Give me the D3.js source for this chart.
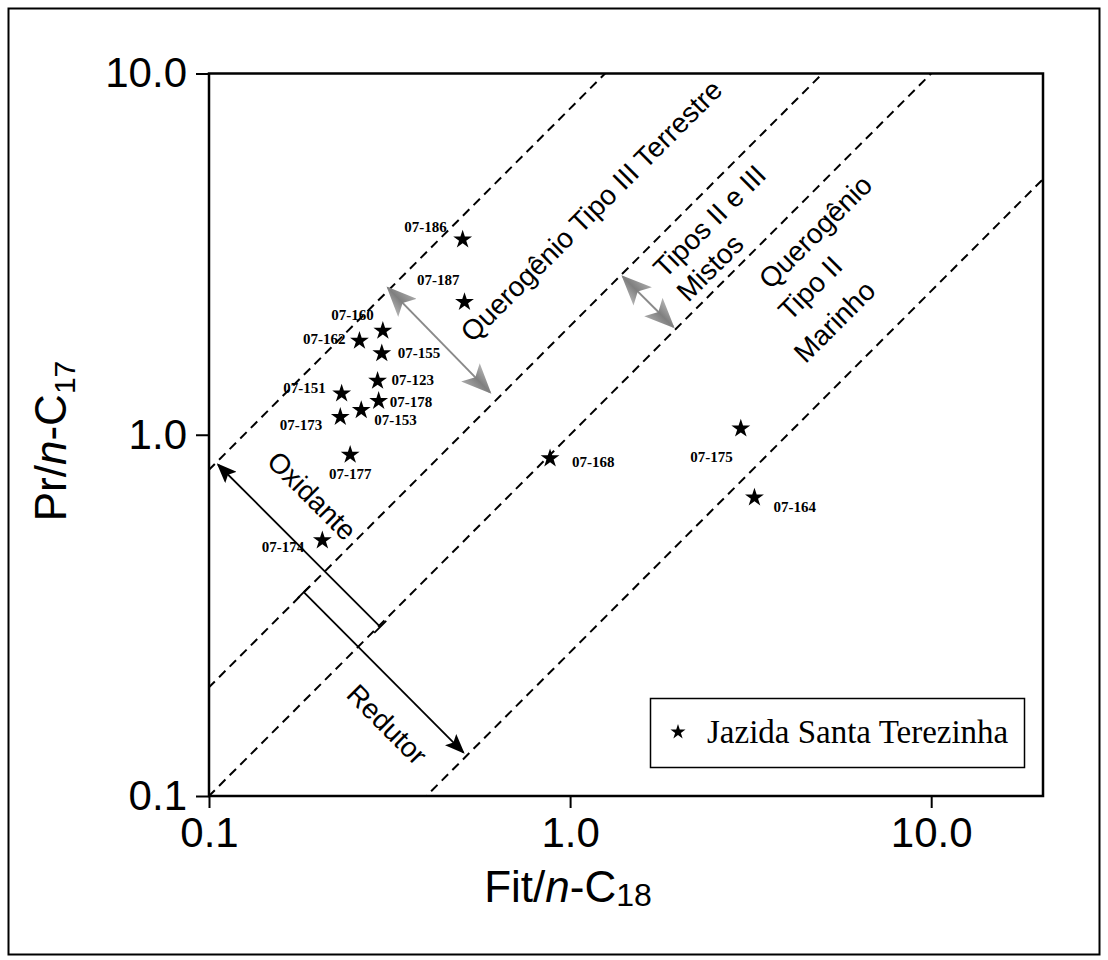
<!DOCTYPE html>
<html>
<head>
<meta charset="utf-8">
<script src="https://cdn.jsdelivr.net/npm/d3@7"></script>
<style>
  body { margin: 0; background: #fff; }
  svg { display: block; }
</style>
</head>
<body>
<div id="chart"></div>
<script>
// values (Pr/n-C17 vs Fit/n-C18)
const sampleIds = ["07-186", "07-187", "07-160", "07-162", "07-155", "07-123", "07-151",
                   "07-178", "07-173", "07-153", "07-177", "07-174", "07-168", "07-175", "07-164"];
const fitC18 = [0.504, 0.510, 0.303, 0.261, 0.301, 0.293, 0.233,
                0.295, 0.231, 0.264, 0.246, 0.206, 0.88, 2.97, 3.24];
const prC17 = [3.47, 2.33, 1.94, 1.82, 1.68, 1.41, 1.30,
               1.24, 1.12, 1.17, 0.88, 0.51, 0.86, 1.04, 0.67];

// Pr/C17 = ratio * Fit/C18 boundaries
const boundaryRatios = [8, 2, 1, 0.25];

const xTicks = [0.1, 1, 10];
const yTicks = [0.1, 1, 10];
const tickLabels = ["0.1", "1.0", "10.0"];

const legendLabel = "Jazida Santa Terezinha";

// label placement around each star: [anchor, dx, dy]
const labelPlace = {
    "07-186": ["end", -16, -8],
    "07-187": ["end", -5, -17],
    "07-160": ["end", -9, -11],
    "07-162": ["end", -14, 3],
    "07-155": ["start", 16, 5],
    "07-123": ["start", 14, 4],
    "07-151": ["end", -16, -1],
    "07-178": ["start", 11, 6],
    "07-173": ["end", -18, 13],
    "07-153": ["start", 13, 15],
    "07-177": ["middle", 0, 24],
    "07-174": ["end", -18, 12],
    "07-168": ["start", 22, 9],
    "07-175": ["end", -8, 33],
    "07-164": ["start", 19, 14]
};

let width = 1108, height = 960;

let svg = d3.select("#chart")
    .append("svg")
    .attr("width", width)
    .attr("height", height);

// outer frame
svg.append("rect")
    .attr("x", 8.5).attr("y", 8.5)
    .attr("width", 1091).attr("height", 946)
    .attr("fill", "none")
    .attr("stroke", "#000")
    .attr("stroke-width", 2);

let x = d3.scaleLog().domain([0.1, 20.4]).range([209, 1043]);
let y = d3.scaleLog().domain([0.1, 10]).range([796, 73.5]);

let defs = svg.append("defs");
defs.append("clipPath").attr("id", "plotclip")
    .append("rect")
    .attr("x", x.range()[0]).attr("y", y.range()[1])
    .attr("width", x.range()[1] - x.range()[0])
    .attr("height", y.range()[0] - y.range()[1]);

defs.append("marker")
    .attr("id", "headBlack")
    .attr("viewBox", "0 0 20 16")
    .attr("refX", 18).attr("refY", 8)
    .attr("markerWidth", 20).attr("markerHeight", 16)
    .attr("markerUnits", "userSpaceOnUse")
    .attr("orient", "auto-start-reverse")
    .append("path")
    .attr("d", "M0,0 L20,8 L0,16 L4,8 Z")
    .attr("fill", "#000");

let grad = defs.append("linearGradient")
    .attr("id", "greyFill")
    .attr("x1", 0).attr("y1", 0).attr("x2", 0).attr("y2", 1);
grad.append("stop").attr("offset", "0%").attr("stop-color", "#b5b5b5");
grad.append("stop").attr("offset", "50%").attr("stop-color", "#7f7f7f");
grad.append("stop").attr("offset", "100%").attr("stop-color", "#a8a8a8");

defs.append("marker")
    .attr("id", "headGrey")
    .attr("viewBox", "0 0 30 26")
    .attr("refX", 28).attr("refY", 13)
    .attr("markerWidth", 30).attr("markerHeight", 26)
    .attr("markerUnits", "userSpaceOnUse")
    .attr("orient", "auto-start-reverse")
    .append("path")
    .attr("d", "M0,0 L30,13 L0,26 L7,13 Z")
    .attr("fill", "url(#greyFill)");

// dashed boundaries
let lineGen = d3.line().x(d => x(d[0])).y(d => y(d[1]));
svg.append("g")
    .attr("clip-path", "url(#plotclip)")
    .selectAll("path")
    .data(boundaryRatios)
    .enter()
    .append("path")
    .attr("d", r => lineGen([[0.01, 0.01 * r], [100, 100 * r]]))
    .attr("fill", "none")
    .attr("stroke", "#000")
    .attr("stroke-width", 2)
    .attr("stroke-dasharray", "9,6");

// plot frame
svg.append("rect")
    .attr("x", x.range()[0]).attr("y", y.range()[1])
    .attr("width", x.range()[1] - x.range()[0])
    .attr("height", y.range()[0] - y.range()[1])
    .attr("fill", "none")
    .attr("stroke", "#000")
    .attr("stroke-width", 2.5);

// axes
let xAxis = svg.append("g")
    .attr("transform", `translate(0,${y.range()[0]})`)
    .call(d3.axisBottom(x).tickValues(xTicks).tickFormat(d => tickLabels[xTicks.indexOf(d)]).tickSize(12).tickPadding(9));
let yAxis = svg.append("g")
    .attr("transform", `translate(${x.range()[0]},0)`)
    .call(d3.axisLeft(y).tickValues(yTicks).tickFormat(d => tickLabels[yTicks.indexOf(d)]).tickSize(13).tickPadding(9));
[xAxis, yAxis].forEach(g => {
    g.select(".domain").remove();
    g.selectAll(".tick line").attr("stroke-width", 2);
    g.selectAll(".tick text")
        .attr("font-family", "Liberation Sans, Arial, sans-serif")
        .attr("font-size", 42)
        .attr("fill", "#000");
});

// axis titles
let xt = svg.append("text")
    .attr("x", 568).attr("y", 902)
    .attr("text-anchor", "middle")
    .attr("font-family", "Liberation Sans, Arial, sans-serif")
    .attr("font-size", 44);
xt.append("tspan").text("Fit/");
xt.append("tspan").attr("font-style", "italic").text("n");
xt.append("tspan").text("-C");
xt.append("tspan").attr("font-size", 32).attr("dy", 4).text("18");

let yt = svg.append("text")
    .attr("transform", "translate(66,441) rotate(-90)")
    .attr("text-anchor", "middle")
    .attr("font-family", "Liberation Sans, Arial, sans-serif")
    .attr("font-size", 44);
yt.append("tspan").text("Pr/");
yt.append("tspan").attr("font-style", "italic").text("n");
yt.append("tspan").text("-C");
yt.append("tspan").attr("font-size", 30).attr("dy", 9).text("17");

// rotated region labels (baseline centre in data units)
let regionLabels = [
    {text: "Querogênio Tipo III Terrestre", at: [1.196, 3.99], angle: -45},
    {text: "Tipos II e III", at: [2.543, 3.735], angle: -45},
    {text: "Mistos", at: [2.549, 2.78], angle: -45},
    {text: "Querogênio", at: [4.99, 3.49], angle: -45},
    {text: "Tipo II", at: [4.83, 2.44], angle: -45},
    {text: "Marinho", at: [5.64, 1.97], angle: -45},
    {text: "Oxidante", at: [0.1845, 0.649], angle: 45},
    {text: "Redutor", at: [0.298, 0.151], angle: 45}
];
svg.append("g").selectAll("text")
    .data(regionLabels)
    .enter()
    .append("text")
    .attr("transform", d => `translate(${x(d.at[0])},${y(d.at[1])}) rotate(${d.angle})`)
    .attr("text-anchor", "middle")
    .attr("font-family", "Liberation Sans, Arial, sans-serif")
    .attr("font-size", 28)
    .text(d => d.text);

// arrows
let greyArrows = [
    [[0.313, 2.55], [0.600, 1.31]],
    [[1.40, 2.74], [1.93, 1.99]]
];
svg.append("g").selectAll("path")
    .data(greyArrows)
    .enter()
    .append("path")
    .attr("d", d => lineGen(d))
    .attr("stroke", "#8a8a8a")
    .attr("stroke-width", 2)
    .attr("marker-start", "url(#headGrey)")
    .attr("marker-end", "url(#headGrey)");

let blackArrows = [
    [[0.298, 0.294], [0.106, 0.826]],   // oxidante
    [[0.183, 0.367], [0.506, 0.132]]    // redutor
];
svg.append("g").selectAll("path")
    .data(blackArrows)
    .enter()
    .append("path")
    .attr("d", d => lineGen(d))
    .attr("stroke", "#000")
    .attr("stroke-width", 1.8)
    .attr("marker-end", "url(#headBlack)");
// small end caps on the arrow tails
svg.append("g").selectAll("path")
    .data(blackArrows)
    .enter()
    .append("path")
    .attr("d", d => {
        let px = x(d[0][0]), py = y(d[0][1]);
        return `M${px - 6},${py + 6} L${px + 6},${py - 6}`;
    })
    .attr("stroke", "#000")
    .attr("stroke-width", 1.8);

// samples
let samples = sampleIds.map((id, i) => ({id: id, fit: fitC18[i], pr: prC17[i]}));
let star = d3.symbol(d3.symbolStar, 110);

svg.append("g").selectAll("path")
    .data(samples)
    .enter()
    .append("path")
    .attr("d", star)
    .attr("transform", d => `translate(${x(d.fit)},${y(d.pr)})`)
    .attr("fill", "#000");

svg.append("g").selectAll("text")
    .data(samples)
    .enter()
    .append("text")
    .attr("x", d => x(d.fit) + labelPlace[d.id][1])
    .attr("y", d => y(d.pr) + labelPlace[d.id][2])
    .attr("text-anchor", d => labelPlace[d.id][0])
    .attr("font-family", "Liberation Serif, Times New Roman, serif")
    .attr("font-weight", "bold")
    .attr("font-size", 15)
    .text(d => d.id);

// legend
let legend = svg.append("g").attr("transform", "translate(650,698)");
legend.append("rect")
    .attr("x", 0.5).attr("y", 0.5)
    .attr("width", 374).attr("height", 69)
    .attr("fill", "#fff")
    .attr("stroke", "#000")
    .attr("stroke-width", 1.5);
legend.append("path")
    .attr("d", d3.symbol(d3.symbolStar, 70))
    .attr("transform", "translate(28,34)");
legend.append("text")
    .attr("x", 57).attr("y", 45)
    .attr("font-family", "Liberation Serif, Times New Roman, serif")
    .attr("font-size", 33)
    .text(legendLabel);
</script>
</body>
</html>
